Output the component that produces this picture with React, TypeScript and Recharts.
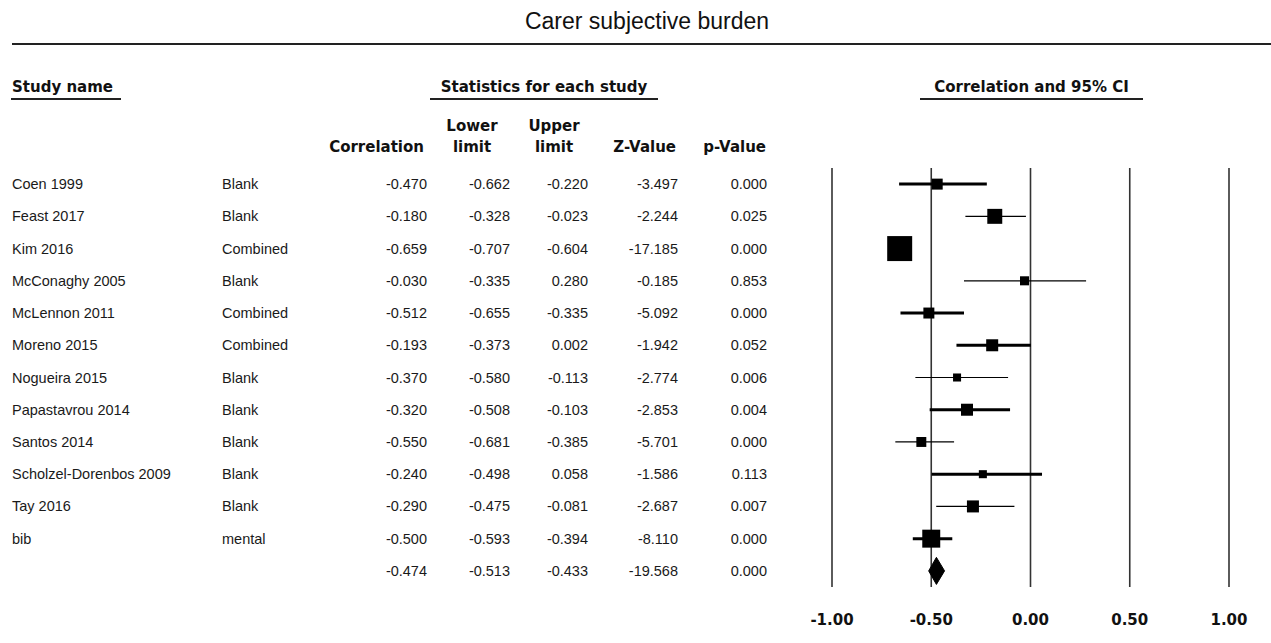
import {
  ComposedChart,
  Scatter,
  ErrorBar,
  Area,
  XAxis,
  YAxis,
  ZAxis,
  CartesianGrid,
} from 'recharts';

// study rows, top to bottom
const studyNames = [
  'Coen 1999',
  'Feast 2017',
  'Kim 2016',
  'McConaghy 2005',
  'McLennon 2011',
  'Moreno 2015',
  'Nogueira 2015',
  'Papastavrou 2014',
  'Santos 2014',
  'Scholzel-Dorenbos 2009',
  'Tay 2016',
  'bib',
];
const studyGroups = [
  'Blank',
  'Blank',
  'Combined',
  'Blank',
  'Combined',
  'Combined',
  'Blank',
  'Blank',
  'Blank',
  'Blank',
  'Blank',
  'mental',
];
const correlation = [-0.47, -0.18, -0.659, -0.03, -0.512, -0.193, -0.37, -0.32, -0.55, -0.24, -0.29, -0.5];
const lowerLimit = [-0.662, -0.328, -0.707, -0.335, -0.655, -0.373, -0.58, -0.508, -0.681, -0.498, -0.475, -0.593];
const upperLimit = [-0.22, -0.023, -0.604, 0.28, -0.335, 0.002, -0.113, -0.103, -0.385, 0.058, -0.081, -0.394];
const zValue = [-3.497, -2.244, -17.185, -0.185, -5.092, -1.942, -2.774, -2.853, -5.701, -1.586, -2.687, -8.11];
const pValue = [0.0, 0.025, 0.0, 0.853, 0.0, 0.052, 0.006, 0.004, 0.0, 0.113, 0.007, 0.0];
// relative weight (%), drives the box area
const studyWeight = [5.6, 10.4, 29.0, 3.8, 5.6, 6.7, 3.0, 6.7, 4.6, 3.0, 6.7, 15.0];

const pooledCorrelation = -0.474;
const pooledLower = -0.513;
const pooledUpper = -0.433;
const pooledZ = -19.568;
const pooledP = 0.0;

const xTicks = [-1, -0.5, 0, 0.5, 1];

// rows whose CI line is drawn heavy
const heavyRows = [0, 2, 4, 5, 7, 9, 11];

const pooledRow = studyNames.length + 1;
const rowTicks = Array.from({ length: pooledRow }, (_, i) => i + 1);

const studyData = studyNames.map((name, i) => ({
  name,
  x: correlation[i],
  y: i + 1,
  w: studyWeight[i],
  err: [correlation[i] - lowerLimit[i], upperLimit[i] - correlation[i]],
}));
const heavyData = studyData.filter((_, i) => heavyRows.includes(i));
const lightData = studyData.filter((_, i) => !heavyRows.includes(i));

const diamondData = [
  { x: pooledLower, band: [pooledRow, pooledRow] },
  { x: pooledCorrelation, band: [pooledRow - 0.42, pooledRow + 0.42] },
  { x: pooledUpper, band: [pooledRow, pooledRow] },
];

const COL = { name: 12, group: 222, corr: 427, lower: 510, upper: 588, z: 678, p: 767 };
const BODY_FONT = '"Liberation Sans", Arial, sans-serif';
const HEAD_FONT = '"DejaVu Sans", Verdana, sans-serif';

const fmt = (v: number) => v.toFixed(3);

function RowTick(props: any) {
  const { y, payload } = props;
  const row = payload.value as number;
  const i = row - 1;
  const pooled = row === pooledRow;
  const nums = pooled
    ? [pooledCorrelation, pooledLower, pooledUpper, pooledZ, pooledP]
    : [correlation[i], lowerLimit[i], upperLimit[i], zValue[i], pValue[i]];
  const xs = [COL.corr, COL.lower, COL.upper, COL.z, COL.p];
  return (
    <g fontFamily={BODY_FONT} fontSize={14.5} fill="#1a1a1a">
      {!pooled && (
        <>
          <text x={COL.name} y={y} dominantBaseline="central">
            {studyNames[i]}
          </text>
          <text x={COL.group} y={y} dominantBaseline="central">
            {studyGroups[i]}
          </text>
        </>
      )}
      {nums.map((v, k) => (
        <text key={k} x={xs[k]} y={y} textAnchor="end" dominantBaseline="central">
          {fmt(v)}
        </text>
      ))}
    </g>
  );
}

function AxisTick(props: any) {
  const { x, y, payload } = props;
  return (
    <text
      x={x}
      y={y + 25}
      textAnchor="middle"
      dominantBaseline="central"
      fontFamily={HEAD_FONT}
      fontWeight="bold"
      fontSize={15}
      fill="#111"
    >
      {Number(payload.value).toFixed(2)}
    </text>
  );
}

const headStyle: React.CSSProperties = {
  position: 'absolute',
  fontFamily: HEAD_FONT,
  fontWeight: 'bold',
  fontSize: 15,
  color: '#111',
  whiteSpace: 'nowrap',
  lineHeight: '21px',
};

function Underline({ left, width }: { left: number; width: number }) {
  return (
    <div
      style={{
        position: 'absolute',
        left,
        top: 98,
        width,
        height: 2,
        background: '#222',
      }}
    />
  );
}

export default function App() {
  return (
    <div
      style={{
        position: 'absolute',
        left: 0,
        top: 0,
        width: 1271,
        height: 643,
        background: '#fff',
      }}
    >
      <div
        style={{
          position: 'absolute',
          left: 0,
          width: 1294,
          top: 8,
          textAlign: 'center',
          fontFamily: BODY_FONT,
          fontSize: 23,
          color: '#111',
        }}
      >
        Carer subjective burden
      </div>
      <div
        style={{
          position: 'absolute',
          left: 12,
          right: 0,
          top: 43,
          height: 2,
          background: '#222',
        }}
      />

      <div style={{ ...headStyle, left: 12, top: 77 }}>Study name</div>
      <Underline left={11} width={110} />
      <div style={{ ...headStyle, left: 430, width: 228, top: 77, textAlign: 'center' }}>
        Statistics for each study
      </div>
      <Underline left={430} width={228} />
      <div style={{ ...headStyle, left: 920, width: 223, top: 77, textAlign: 'center' }}>
        Correlation and 95% CI
      </div>
      <Underline left={920} width={223} />

      <div style={{ ...headStyle, right: 1271 - 424, top: 137, textAlign: 'right' }}>
        Correlation
      </div>
      <div style={{ ...headStyle, left: 432, width: 80, top: 116, textAlign: 'center' }}>
        Lower
        <br />
        limit
      </div>
      <div style={{ ...headStyle, left: 514, width: 80, top: 116, textAlign: 'center' }}>
        Upper
        <br />
        limit
      </div>
      <div style={{ ...headStyle, right: 1271 - 676, top: 137, textAlign: 'right' }}>
        Z-Value
      </div>
      <div style={{ ...headStyle, right: 1271 - 766, top: 137, textAlign: 'right' }}>
        p-Value
      </div>

      <ComposedChart
        width={1271}
        height={643}
        margin={{ top: 168, right: 42, bottom: 0, left: 831 }}
        style={{ position: 'absolute', left: 0, top: 0 }}
      >
        <CartesianGrid horizontal={false} stroke="#333" strokeWidth={1.6} />
        <XAxis
          type="number"
          dataKey="x"
          domain={[-1, 1]}
          ticks={xTicks}
          axisLine={false}
          tickLine={false}
          tick={<AxisTick />}
          height={56}
          allowDataOverflow
        />
        <YAxis
          type="number"
          dataKey="y"
          domain={[0.5, pooledRow + 0.5]}
          ticks={rowTicks}
          interval={0}
          reversed
          axisLine={false}
          tickLine={false}
          tick={<RowTick />}
          width={1}
          allowDataOverflow
        />
        <ZAxis type="number" dataKey="w" domain={[0, 30]} range={[0, 646]} />
        <Area
          data={diamondData}
          dataKey="band"
          type="linear"
          stroke="#000"
          strokeWidth={1}
          fill="#000"
          fillOpacity={1}
          dot={false}
          activeDot={false}
          isAnimationActive={false}
        />
        <Scatter data={lightData} shape="square" fill="#000" isAnimationActive={false}>
          <ErrorBar dataKey="err" direction="x" width={0} stroke="#000" strokeWidth={1.2} />
        </Scatter>
        <Scatter data={heavyData} shape="square" fill="#000" isAnimationActive={false}>
          <ErrorBar dataKey="err" direction="x" width={0} stroke="#000" strokeWidth={3} />
        </Scatter>
      </ComposedChart>
    </div>
  );
}
